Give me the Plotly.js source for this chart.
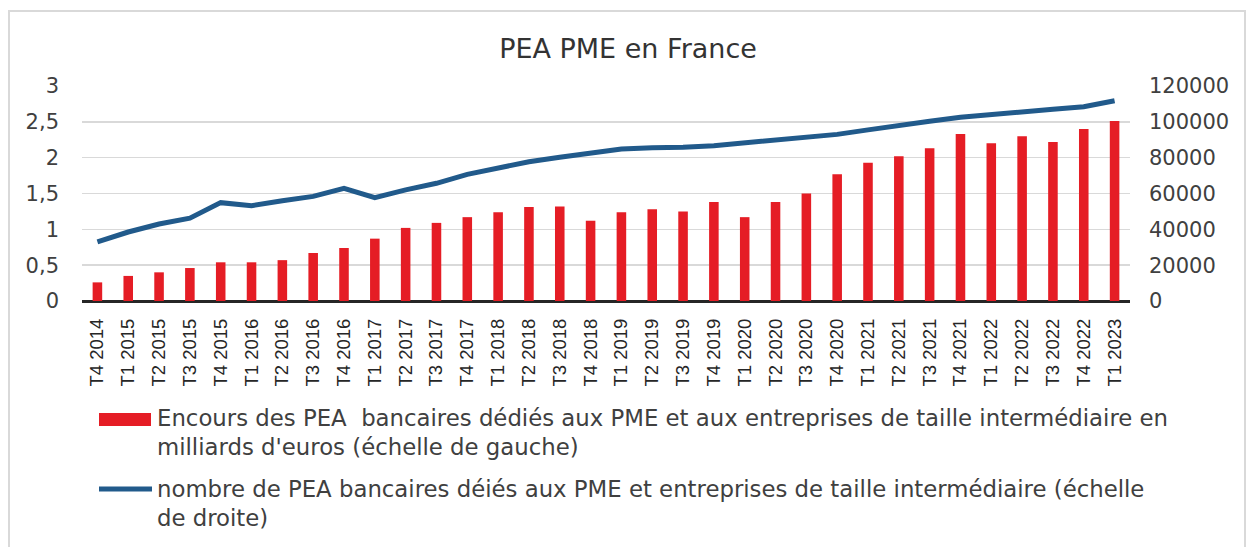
<!DOCTYPE html>
<html>
<head>
<meta charset="utf-8">
<script src="https://cdn.plot.ly/plotly-3.0.1.min.js"></script>
<style>
  html, body { margin: 0; padding: 0; background: #ffffff; overflow: hidden; }
  #chart { position: absolute; left: 0; top: 0; width: 1249px; height: 547px; }
  #frame { position: absolute; left: 8px; top: 10px; width: 1238px; height: 600px;
           border: 2px solid #d9d9d9; pointer-events: none; box-sizing: border-box; }
</style>
</head>
<body>
<div id="chart"></div>
<div id="frame"></div>
<script>
// ---- data ----
const categories = [
  "T4 2014",
  "T1 2015", "T2 2015", "T3 2015", "T4 2015",
  "T1 2016", "T2 2016", "T3 2016", "T4 2016",
  "T1 2017", "T2 2017", "T3 2017", "T4 2017",
  "T1 2018", "T2 2018", "T3 2018", "T4 2018",
  "T1 2019", "T2 2019", "T3 2019", "T4 2019",
  "T1 2020", "T2 2020", "T3 2020", "T4 2020",
  "T1 2021", "T2 2021", "T3 2021", "T4 2021",
  "T1 2022", "T2 2022", "T3 2022", "T4 2022",
  "T1 2023"
];
// Encours (milliards d'euros, échelle de gauche)
const encours = [
  0.26,
  0.35, 0.40, 0.46, 0.54,
  0.54, 0.57, 0.67, 0.74,
  0.87, 1.02, 1.09, 1.17,
  1.24, 1.31, 1.32, 1.12,
  1.24, 1.28, 1.25, 1.38,
  1.17, 1.38, 1.50, 1.77,
  1.93, 2.02, 2.13, 2.33,
  2.20, 2.30, 2.22, 2.40,
  2.51
];
// Nombre de PEA (échelle de droite)
const nombre = [
  33000,
  38500, 43000, 46200, 54900,
  53200, 56000, 58400, 62900,
  57700, 62000, 65700, 70700,
  74400, 77700, 80200, 82800,
  84800, 85600, 85800, 86700,
  88200, 90000, 91200, 93000,
  95500, 98200, 100300, 102500,
  103800, 105500, 107000, 108400,
  111800
];
const leftTickVals = [0, 0.5, 1, 1.5, 2, 2.5, 3];
const leftTickText = ["0", "0,5", "1", "1,5", "2", "2,5", "3"];
const rightTickVals = [0, 20000, 40000, 60000, 80000, 100000, 120000];
const rightTickText = ["0", "20000", "40000", "60000", "80000", "100000", "120000"];
const titleText = "PEA PME en France";
const legendBarLines = [
  "Encours des PEA  bancaires dédiés aux PME et aux entreprises de taille intermédiaire en",
  "milliards d'euros (échelle de gauche)"
];
const legendLineLines = [
  "nombre de PEA bancaires déiés aux PME et entreprises de taille intermédiaire (échelle",
  "de droite)"
];

// ---- styling ----
const RED = "#e51d25";
const BLUE = "#215a8b";
const TEXT = "#404040";
const FONT = "DejaVu Sans, Noto Sans, sans-serif";

const M = { l: 82, r: 119, t: 86, b: 246 };
const W = 1249, H = 547;
const PW = W - M.l - M.r, PH = H - M.t - M.b;
const px = x => (x - M.l) / PW;
const py = y => (H - M.b - y) / PH;

const traces = [
  {
    type: "bar",
    x: categories,
    y: encours,
    name: legendBarLines.join(" "),
    marker: { color: RED },
    yaxis: "y",
    showlegend: false,
    hoverinfo: "x+y"
  },
  {
    type: "scatter",
    mode: "lines",
    x: categories,
    y: nombre,
    name: legendLineLines.join(" "),
    line: { color: BLUE, width: 5 },
    yaxis: "y2",
    showlegend: false,
    hoverinfo: "x+y"
  }
];

const legendFont = { family: FONT, size: 22.8, color: TEXT };
const annotations = [];
const legendRows = [
  [legendBarLines[0], 418], [legendBarLines[1], 447],
  [legendLineLines[0], 489], [legendLineLines[1], 518]
];
legendRows.forEach(([t, y]) => {
  annotations.push({
    xref: "paper", yref: "paper", x: px(155), y: py(y),
    xanchor: "left", yanchor: "middle", text: t, showarrow: false,
    font: legendFont
  });
});

const shapes = [
  { type: "rect", xref: "paper", yref: "paper",
    x0: px(99), x1: px(151), y0: py(426), y1: py(413),
    fillcolor: RED, line: { width: 0 } },
  { type: "line", xref: "paper", yref: "paper",
    x0: px(99), x1: px(152), y0: py(489), y1: py(489),
    line: { color: BLUE, width: 5 } }
];

const layout = {
  width: W, height: H,
  margin: M,
  paper_bgcolor: "#ffffff",
  plot_bgcolor: "#ffffff",
  font: { family: FONT, color: TEXT },
  title: {
    text: titleText,
    font: { family: FONT, size: 27, color: "#333333" },
    x: 628 / W, xref: "container", xanchor: "center",
    y: 1 - 49 / H, yref: "container", yanchor: "middle"
  },
  bargap: 0.69,
  showlegend: false,
  xaxis: {
    type: "category",
    tickangle: -90,
    tickfont: { family: "Liberation Sans, Arial, sans-serif", size: 18.5, color: "#262626" },
    showgrid: false,
    showline: false,
    ticks: "",
    ticklabelstandoff: 13,
    fixedrange: true
  },
  yaxis: {
    range: [0, 3],
    tickvals: leftTickVals,
    ticktext: leftTickText,
    tickfont: { family: FONT, size: 21, color: TEXT },
    showgrid: true,
    gridcolor: "#d9d9d9",
    gridwidth: 1.6,
    zeroline: true,
    zerolinecolor: "#262626",
    zerolinewidth: 3,
    showline: false,
    ticks: "",
    ticklabelstandoff: 22,
    fixedrange: true
  },
  yaxis2: {
    overlaying: "y",
    side: "right",
    range: [0, 120000],
    tickvals: rightTickVals,
    ticktext: rightTickText,
    tickfont: { family: FONT, size: 21, color: TEXT },
    showgrid: false,
    zeroline: false,
    showline: false,
    ticks: "",
    ticklabelstandoff: 18,
    fixedrange: true
  },
  annotations: annotations,
  shapes: shapes
};

Plotly.newPlot("chart", traces, layout, { displayModeBar: false, staticPlot: true });
</script>
</body>
</html>
